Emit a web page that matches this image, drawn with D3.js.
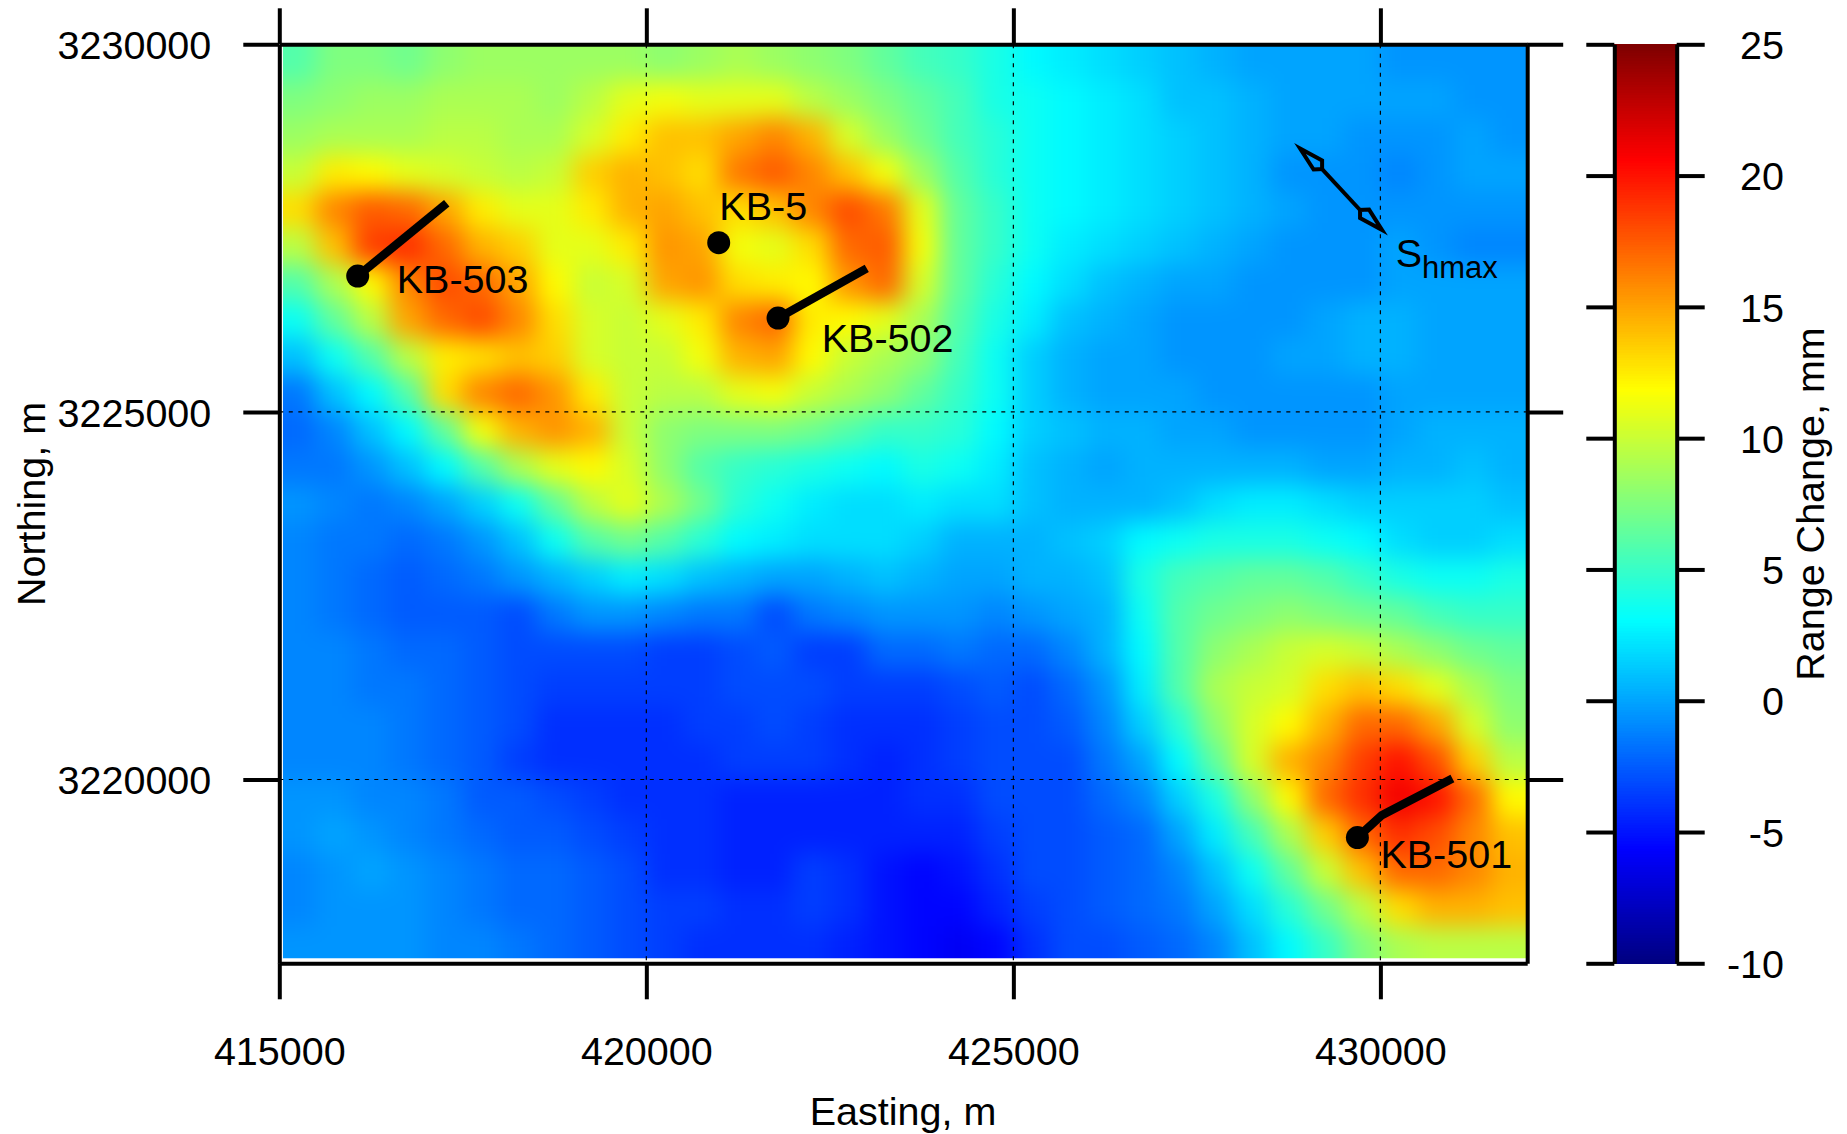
<!DOCTYPE html>
<html>
<head>
<meta charset="utf-8">
<script src="https://cdnjs.cloudflare.com/ajax/libs/d3/7.8.5/d3.min.js"></script>
<style>
  html, body { margin: 0; background: #fff; }
  svg { display: block; }
  text { font-family: "Liberation Sans", Arial, sans-serif; font-size: 39.5px; fill: #000; }
  .axis path, .axis line { stroke: #000; stroke-width: 4px; }
  .grid line { stroke: #000; stroke-width: 1.2px; stroke-dasharray: 4 5.5; }
</style>
</head>
<body>
<svg width="1847" height="1134"></svg>
<script>
// range change in mm, rows north to south, columns west to east, 500 m cells
const rangeChange = [
  [6,7.5,7.5,7,8,8.5,8.5,8.5,8.5,8.5,8,8.5,9,8.5,8,7.5,6.5,5.5,5,4,3,2.5,2,1.5,1,.5,0,0,0,0,-.5,-.5,-.5,-.5],
  [7.5,8,8.5,8.5,9,9,9,8.5,9.5,11,11.5,11,11,11,9.5,8.5,7.5,6.5,5.5,4,3.5,3,2.5,2,1,1,.5,0,0,0,0,0,-.5,-.5],
  [8.5,9,9,9,9.5,9.5,9,9,10.5,12.5,14,14,15,16,14.5,10.5,8.5,7,5.5,4.5,3.5,3,2.5,2,1.5,1,.5,0,0,-.5,-.5,-.5,0,-.5],
  [10,12.5,12,11,10.5,10,9.5,10,13.5,14.5,14,13,16.5,17.5,16,14,11.5,8.5,6,4.5,3.5,3,2.5,2,1.5,1,.5,-.5,-.5,-.5,-1,-.5,0,0],
  [13,16,17.5,17,15,12.5,11,11,12.5,14.5,15,14,13,14,16,18,16.5,11,6.5,5,3.5,3,2.5,2,1.5,1,.5,0,-.5,-.5,-.5,-.5,-.5,-.5],
  [9.5,14,18.5,19,17,14.5,13.5,11,11,12.5,15.5,15,11.5,11,13,17,17.5,11.5,6.5,5,3.5,2.5,2,1.5,1,.5,0,-.5,-.5,-.5,0,-.5,-1,-1],
  [6,9,12,16,18,17,15,12,10,10.5,15,15.5,13,12.5,12,15.5,17,10.5,6.5,4.5,3,2,1,.5,0,0,-.5,-.5,-.5,-.5,0,0,0,0],
  [3.5,6.5,9.5,15,17,18,16,13,10.5,10,11,12.5,16,17,12.5,12,11,9,6,4,2.5,1,.5,0,-.5,-.5,-.5,-.5,0,.5,.5,0,0,0],
  [1,3.5,6,9.5,12.5,13,14,13.5,10.5,10,10,11.5,14.5,15,12,10,9,8,5.5,3.5,1.5,.5,0,0,-.5,-.5,-.5,0,0,.5,.5,0,0,0],
  [-1.5,1,3,6,13,16,17,15.5,12.5,10,9.5,9.5,11,11.5,10,9,8,6.5,5,3.5,1.5,.5,0,0,0,-.5,-.5,-.5,-.5,-.5,0,0,0,0],
  [-2,-1,1,3,6.5,11.5,14.5,15.5,14.5,10,8,7.5,7.5,7.5,7,6,5,5,4.5,3,1.5,1,.5,.5,0,0,-.5,-.5,-.5,-.5,0,.5,.5,.5],
  [-1.5,-1.5,-.5,1,3,6,9,11,12,10.5,8,6,5,4.5,4,3.5,3,4,3.5,2.5,1,.5,0,.5,.5,.5,.5,.5,0,0,.5,.5,1,.5],
  [-.5,-1,-1.5,-1,0,1.5,3.5,6.5,9.5,11,9,7,4.5,3.5,2.5,2,2,2.5,2,2,1,.5,.5,.5,1,2,2.5,2.5,2,1.5,1.5,1.5,1.5,1],
  [-1,-1.5,-1.5,-2,-1.5,-.5,1,3.5,6,7,6,4.5,3,2.5,2,2,2,1.5,.5,.5,.5,1,1.5,3,3.5,4,4,4,3.5,3,2,1.5,1.5,2],
  [-1,-1.5,-2,-2.5,-2,-1.5,-.5,.5,1.5,2.5,2,1,.5,0,0,.5,1,.5,0,0,.5,.5,1,4,5.5,6,6.5,6.5,6,5,4,3.5,3.5,4],
  [-1,-1.5,-2,-2.5,-2.5,-2.5,-3,-1.5,-.5,-.5,-1,-1.5,-1.5,-3,-1.5,-1,-.5,-.5,-.5,-1,-.5,0,.5,3.5,6,7,7.5,8,7.5,7,6.5,5.5,5,5],
  [-1,-1,-1.5,-2,-2,-2.5,-3,-3,-3,-3,-3.5,-3.5,-3,-2.5,-3.5,-3.5,-2,-2,-1.5,-2,-2,-1,.5,3,6,8,9,10,10.5,10,9,8,7,6.5],
  [-1,-1,-1.5,-1.5,-2,-2.5,-3,-3.5,-3.5,-3.5,-3.5,-3.5,-3,-3,-3,-3.5,-3.5,-3.5,-3,-2.5,-3,-2,-.5,2.5,6,9,10,10.5,13,14,13,11,9,7.5],
  [-1,-1,-1,-1.5,-2,-2.5,-3,-4,-4,-4,-4,-3.5,-3.5,-3,-3.5,-4,-4,-4,-3.5,-3,-3,-2.5,-1,1.5,4.5,8,10.5,12,14.5,17,17,15,10.5,8],
  [-1,-1,-1,-1.5,-2,-2.5,-3.5,-4,-4,-4,-4,-4,-3.5,-3.5,-3.5,-4,-4.5,-4,-3.5,-3,-3,-3,-1.5,0,3,6.5,10.5,14.5,16,18.5,20,18,13.5,9.5],
  [-.5,-.5,-1,-1,-1.5,-2.5,-2.5,-3,-3.5,-4,-4,-4,-4.5,-4.5,-4.5,-4.5,-4.5,-4,-4,-3,-3,-3,-2,-1,1.5,4,8,12,17,19,21,20,17,12],
  [-.5,0,-.5,-1,-1.5,-2,-2.5,-2.5,-3,-3.5,-4,-4,-4.5,-4.5,-4.5,-4.5,-4.5,-4.5,-4.5,-3.5,-3,-3,-2.5,-2,0,2.5,5.5,9,13.5,17,19,18,16,14],
  [-1,-.5,0,-.5,-1,-1.5,-2,-2,-2.5,-3,-4,-4,-4.5,-4.5,-3.5,-4,-5,-5.5,-5,-4,-3,-3,-2.5,-2,-1,1,3.5,6.5,10,14,17,17,16,14.5],
  [-1,-.5,-.5,-.5,-1,-1.5,-2,-2,-2.5,-3,-3.5,-3.5,-4,-4,-3.5,-4,-5,-5.5,-5.5,-4.5,-3.5,-3,-2.5,-2,-1.5,0,2,4.5,7,9.5,13,14.5,14.5,14],
  [-.5,-.5,-.5,-.5,-1,-1,-1.5,-2,-2.5,-3,-3.5,-4,-4,-4,-4,-4.5,-5,-5.5,-6,-5.5,-4,-3,-3,-2.5,-2,-1,1,3,5,7.5,9,9.5,9.5,9.5]
];
const cellSize = 500;
const imageWest = 415050;
const imageSouth = 3217570;

const eastTicks = [415000, 420000, 425000, 430000];
const northTicks = [3220000, 3225000, 3230000];
const gridEast = [420000, 425000, 430000];
const gridNorth = [3220000, 3225000];
const colorTicks = [-10, -5, 0, 5, 10, 15, 20, 25];
const jetStops = [-10, -5.625, -1.25, 3.125, 7.5, 11.875, 16.25, 20.625, 25];
const jetColors = ["#00007f", "#0000ff", "#007fff", "#00ffff", "#7fff7f", "#ffff00", "#ff7f00", "#ff0000", "#7f0000"];

const wells = [
  { name: "KB-503", path: [[416068, 3226848], [417281, 3227837]], labelEast: 416600, labelNorth: 3226620 },
  { name: "KB-5", path: [[420986, 3227301]], labelEast: 420995, labelNorth: 3227610 },
  { name: "KB-502", path: [[421794, 3226276], [423003, 3226952]], labelEast: 422390, labelNorth: 3225820 },
  { name: "KB-501", path: [[429687, 3219211], [430019, 3219514], [430981, 3220014]], labelEast: 430000, labelNorth: 3218800 }
];
const shmaxHeadA = [[428906, 3228582], [429206, 3228419], [429206, 3228303], [429090, 3228297]];
const shmaxHeadB = [[430023, 3227473], [429723, 3227637], [429723, 3227746], [429846, 3227752]];
const shmaxShaft = [[429206, 3228303], [429723, 3227746]];

const svg = d3.select("svg");
const x = d3.scaleLinear().domain([415000, 432000]).range([279.3, 1527.2]);
const y = d3.scaleLinear().domain([3217500, 3230000]).range([963.3, 44.3]);
const color = d3.scaleLinear().domain(jetStops).range(jetColors);
const barY = d3.scaleLinear().domain([-10, 25]).range([963.3, 44.3]);

const defs = svg.append("defs");
defs.append("clipPath").attr("id", "imageClip").append("rect")
  .attr("x", x(imageWest)).attr("y", y(3230000))
  .attr("width", x(432000) - x(imageWest)).attr("height", y(imageSouth) - y(3230000));
defs.append("filter").attr("id", "soften").attr("filterUnits", "userSpaceOnUse")
  .attr("x", 180).attr("y", -60).attr("width", 1450).attr("height", 1130)
  .attr("color-interpolation-filters", "sRGB")
  .append("feGaussianBlur").attr("stdDeviation", 12);

// outer cells run past the clip so that the softening does not fade at the edges
const cells = rangeChange.flatMap((row, j) => row.map((v, i) => ({ i, j, v })));
const lastRow = rangeChange.length - 1;
const lastCol = rangeChange[0].length - 1;
svg.append("g").attr("clip-path", "url(#imageClip)")
  .append("g").attr("filter", "url(#soften)")
  .selectAll("rect").data(cells).join("rect")
  .attr("x", d => x(415000 + d.i * cellSize) - (d.i === 0 ? 60 : 0))
  .attr("y", d => y(3230000 - d.j * cellSize) - (d.j === 0 ? 60 : 0))
  .attr("width", d => x(415000 + cellSize) - x(415000) + 0.6 + (d.i === 0 || d.i === lastCol ? 60 : 0))
  .attr("height", d => y(3230000 - cellSize) - y(3230000) + 0.6 + (d.j === 0 || d.j === lastRow ? 60 : 0))
  .attr("fill", d => color(d.v));

// dashed grid
const grid = svg.append("g").attr("class", "grid");
grid.selectAll(".ge").data(gridEast).join("line").attr("class", "ge")
  .attr("x1", d => x(d)).attr("x2", d => x(d)).attr("y1", y.range()[1]).attr("y2", y.range()[0]);
grid.selectAll(".gn").data(gridNorth).join("line").attr("class", "gn")
  .attr("y1", d => y(d)).attr("y2", d => y(d)).attr("x1", x.range()[0]).attr("x2", x.range()[1]);

// frame and ticks
const tickLen = 36;
svg.append("g").attr("class", "axis").attr("transform", `translate(0,${y.range()[0]})`)
  .call(d3.axisBottom(x).tickValues(eastTicks).tickSize(tickLen).tickSizeOuter(0).tickPadding(38).tickFormat(String));
svg.append("g").attr("class", "axis").attr("transform", `translate(0,${y.range()[1]})`)
  .call(d3.axisTop(x).tickValues(eastTicks).tickSize(tickLen).tickSizeOuter(0).tickFormat(""));
svg.append("g").attr("class", "axis").attr("transform", `translate(${x.range()[0]},0)`)
  .call(d3.axisLeft(y).tickValues(northTicks).tickSize(tickLen).tickSizeOuter(0).tickPadding(32).tickFormat(String));
svg.append("g").attr("class", "axis").attr("transform", `translate(${x.range()[1]},0)`)
  .call(d3.axisRight(y).tickValues(northTicks).tickSize(tickLen).tickSizeOuter(0).tickFormat(""));

// wells
const line = d3.line().x(d => x(d[0])).y(d => y(d[1]));
wells.forEach(w => {
  if (w.path.length > 1) {
    svg.append("path").attr("d", line(w.path)).attr("fill", "none")
      .attr("stroke", "#000").attr("stroke-width", 8.5);
  }
  svg.append("circle").attr("cx", x(w.path[0][0])).attr("cy", y(w.path[0][1])).attr("r", 11.5);
  svg.append("text").attr("x", x(w.labelEast)).attr("y", y(w.labelNorth)).text(w.name);
});

// Shmax marker
[shmaxHeadA, shmaxHeadB].forEach(h => {
  svg.append("path").attr("d", line(h) + "Z").attr("fill", "none")
    .attr("stroke", "#000").attr("stroke-width", 4).attr("stroke-miterlimit", 10);
});
svg.append("path").attr("d", line(shmaxShaft)).attr("stroke", "#000").attr("stroke-width", 4);
const sLabel = svg.append("text").attr("x", 1395.7).attr("y", 266.7).text("S");
sLabel.append("tspan").attr("dy", 11.6).style("font-size", "31px").text("hmax");

// colour bar
const barX0 = 1614.3, barX1 = 1676.7;
const barLevels = d3.range(-10, 25, 0.1);
svg.append("g").attr("shape-rendering", "crispEdges").selectAll("rect").data(barLevels).join("rect")
  .attr("x", barX0).attr("width", barX1 - barX0)
  .attr("y", d => barY(d + 0.1)).attr("height", barY(0) - barY(0.1) + 1)
  .attr("fill", d => color(d + 0.05));
const barTick = 28;
svg.append("g").attr("class", "axis").attr("transform", `translate(${barX0},0)`)
  .call(d3.axisLeft(barY).tickValues(colorTicks).tickSize(barTick).tickSizeOuter(0).tickFormat(""));
const barRight = svg.append("g").attr("class", "axis").attr("transform", `translate(${barX1},0)`)
  .call(d3.axisRight(barY).tickValues(colorTicks).tickSize(barTick).tickSizeOuter(0).tickFormat(String));
barRight.selectAll("text").attr("text-anchor", "end").attr("x", 1784 - barX1);

// all tick labels share the same font and vertical centring
svg.selectAll(".axis").attr("font-size", null).attr("font-family", null);
svg.selectAll(".axis .tick text").attr("dy", function () {
  return d3.select(this).attr("dy") === "0.32em" ? "0.36em" : d3.select(this).attr("dy");
});

// axis titles
svg.append("text").attr("x", 903).attr("y", 1125).attr("text-anchor", "middle").text("Easting, m");
svg.append("text").attr("transform", "translate(45,504) rotate(-90)").attr("text-anchor", "middle").text("Northing, m");
svg.append("text").attr("transform", "translate(1824,504) rotate(-90)").attr("text-anchor", "middle").text("Range Change, mm");
</script>
</body>
</html>
